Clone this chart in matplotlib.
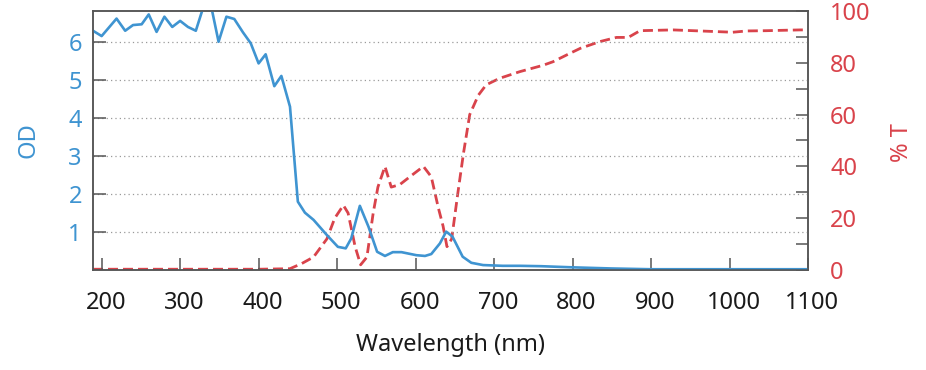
#!/usr/bin/env python

import matplotlib
matplotlib.use('Agg')
import matplotlib.pyplot as plt
from matplotlib.ticker import MultipleLocator
from matplotlib.transforms import ScaledTranslation

# Optical density (left axis)
od_wavelength = [189, 200, 219, 230, 240, 251, 260, 270, 280, 290, 300, 310, 320, 330, 339,
                 349, 359, 369, 380, 390, 400, 409, 420, 429, 440, 450, 459, 470, 487, 501,
                 511, 518, 529, 540, 551, 561, 571, 582, 601, 612, 620, 631, 639, 647, 660,
                 671, 686, 711, 733, 760, 800, 850, 900, 950, 1000, 1050, 1100]
od_values = [6.30, 6.16, 6.62, 6.30, 6.45, 6.47, 6.73, 6.27, 6.67, 6.40, 6.56, 6.40, 6.30, 6.95, 7.00,
             6.01, 6.67, 6.61, 6.26, 5.97, 5.44, 5.68, 4.84, 5.11, 4.30, 1.80, 1.51, 1.32, 0.92, 0.61,
             0.57, 0.83, 1.69, 1.14, 0.48, 0.37, 0.47, 0.47, 0.39, 0.37, 0.42, 0.70, 1.01, 0.88, 0.35,
             0.19, 0.13, 0.11, 0.11, 0.10, 0.07, 0.04, 0.02, 0.02, 0.02, 0.02, 0.02]

# Transmission (right axis)
t_wavelength = [189, 250, 300, 350, 400, 440, 455, 470, 487, 497, 508, 514, 523, 530, 538,
                546, 552, 561, 569, 580, 597, 610, 620, 629, 635, 640, 646, 654, 661, 669,
                680, 690, 707, 733, 762, 775, 797, 810, 835, 856, 871, 886, 928, 962, 1004,
                1022, 1047, 1090, 1100]
t_values = [0.3, 0.3, 0.3, 0.3, 0.3, 0.5, 2.5, 5.0, 12.0, 20.0, 25.0, 22.0, 9.0, 2.0, 5.0,
            22.0, 32.0, 40.0, 32.0, 33.0, 37.0, 40.0, 36.0, 24.0, 17.0, 9.0, 12.0, 30.0, 45.0, 60.0,
            67.5, 71.5, 74.0, 76.6, 79.0, 80.4, 83.7, 85.6, 88.2, 89.8, 89.8, 92.4, 92.7, 92.3, 91.8,
            92.3, 92.4, 92.7, 92.7]

x_ticks = [200, 300, 400, 500, 600, 700, 800, 900, 1000, 1100]
od_ticks = [1, 2, 3, 4, 5, 6]

blue = '#3f94d1'
red = '#d9434b'
spine_color = '#555555'

plt.rcParams['font.family'] = ['Noto Sans', 'DejaVu Sans']
font_size = 17

fig = plt.figure(figsize=(9.26, 3.70), dpi=100)
ax = fig.add_axes([93 / 926, 1 - 270 / 370, 715 / 926, 259 / 370])
ax2 = ax.twinx()

# blue curve drawn above the red one
ax.set_zorder(ax2.get_zorder() + 1)
ax.patch.set_visible(False)

ax2.plot(t_wavelength, t_values, color=red, lw=2.0, linestyle=(0, (3.6, 1.8)))
ax.plot(od_wavelength, od_values, color=blue, lw=1.9)

ax.set_xlim(189, 1100)
ax.set_ylim(0, 6.82)
ax2.set_ylim(0, 100)

ax.set_xticks(x_ticks)
ax.set_yticks(od_ticks)
ax2.yaxis.set_major_locator(MultipleLocator(20))
ax2.yaxis.set_minor_locator(MultipleLocator(10))

ax.yaxis.grid(True, linestyle=(0, (1, 2.5)), color='#9a9a9a', lw=0.9)

ax.tick_params(axis='x', direction='in', length=8.6, width=1.1, color=spine_color,
               labelsize=font_size, labelcolor='#1a1a1a', pad=15)
ax.tick_params(axis='y', direction='in', length=9, width=1.1, color=spine_color,
               labelsize=font_size, labelcolor=blue, pad=8, right=False)
ax2.tick_params(axis='y', which='both', direction='in', length=9, width=1.1, color=spine_color,
                labelsize=font_size, labelcolor=red, pad=16, left=False)
ax2.tick_params(axis='y', which='minor', labelright=False)

# x labels sit a little right of their ticks
shift = ScaledTranslation(4 / 100, 0, fig.dpi_scale_trans)
for lab in ax.get_xticklabels():
	lab.set_transform(lab.get_transform() + shift)

for a in (ax, ax2):
	for s in a.spines.values():
		s.set_color(spine_color)
		s.set_linewidth(1.1)

# Axis titles
fig.text(28 / 926, 1 - 140 / 370, 'OD', color=blue, fontsize=font_size,
         rotation=90, ha='center', va='center')
fig.text(902 / 926, 1 - 143 / 370, '% T', color=red, fontsize=font_size,
         rotation=90, ha='center', va='center')
fig.text(451 / 926, 1 - 345 / 370, 'Wavelength (nm)', color='#1a1a1a', fontsize=font_size,
         ha='center', va='center')

plt.savefig('out.png', dpi=100)
plt.close()
